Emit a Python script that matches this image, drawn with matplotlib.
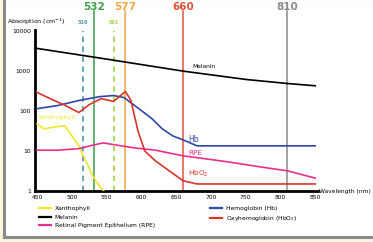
import matplotlib.pyplot as plt
import matplotlib.transforms as mtransforms
from matplotlib.patches import Rectangle
from matplotlib.lines import Line2D

# absorption spectra (nm, cm^-1)
xan_nm = [450, 460, 475, 490, 500, 510, 520, 530, 540, 546]
xan_val = [48, 36, 40, 43, 24, 13.5, 5.7, 2.4, 1.3, 1.0]

mel_nm = [450, 550, 660, 750, 810, 850]
mel_val = [3700, 2000, 1000, 620, 490, 430]

rpe_nm = [450, 480, 510, 530, 545, 560, 590, 620, 660, 720, 780, 810, 850]
rpe_val = [10.5, 10.5, 11.5, 14, 16, 14.5, 12, 10.5, 7.6, 5.5, 3.8, 3.2, 2.1]

hb_nm = [450, 480, 510, 540, 560, 575, 600, 615, 630, 645, 660, 680, 850]
hb_val = [115, 138, 184, 230, 245, 218, 103, 65, 36, 24, 19, 13.5, 13.5]

hbo2_nm = [450, 470, 490, 510, 525, 542, 560, 577, 585, 595, 605, 620, 640, 660, 680, 850]
hbo2_val = [293, 200, 140, 92, 145, 205, 174, 310, 184, 32, 10, 5.7, 3.2, 1.8, 1.5, 1.5]

laser_nm = [516, 532, 561, 577, 660, 810]
laser_colors = ['#5a9db5', '#3a9e48', '#a8d84e', '#f4a640', '#e2543c', '#8c8c8c']
laser_dashed = [True, False, True, False, False, False]

xticks = [450, 500, 550, 600, 650, 700, 750, 800, 850]
yticks = [1, 10, 100, 1000, 10000]

W, H = 373, 242
fig = plt.figure(figsize=(W / 100, H / 100), dpi=100)
fig.patch.set_facecolor('#fbf6dc')
fig.add_artist(Rectangle((4 / W, 5 / H), 1.2, 1 - 5 / H + 0.01, transform=fig.transFigure,
                         facecolor='white', edgecolor='#8a8a8a', linewidth=2.2, zorder=0))

ax = fig.add_axes([35 / W, 1 - 191 / H, (318 - 35) / W, (191 - 30) / H])
ax.set_facecolor('none')
ax.set_yscale('log')
ax.set_xlim(447, 854)
ax.set_ylim(1, 10700)

# laser lines
blend = mtransforms.blended_transform_factory(ax.transData, fig.transFigure)
for nm, c, dash in zip(laser_nm, laser_colors, laser_dashed):
    if dash:
        ax.plot([nm, nm], [1, 10000], color=c, lw=1.3, ls=(0, (3, 2.5)), clip_on=False, zorder=1)
        ax.text(nm, 1 - 22 / H, str(nm), transform=blend, color=c, fontsize=3.6,
                ha='center', va='center', fontweight='bold')
    else:
        ax.plot([nm, nm], [1, 32000], color=c, lw=1.1, clip_on=False, zorder=1)
        ax.text(nm, 1 - 7 / H, str(nm), transform=blend, color=c, fontsize=7.5,
                ha='center', va='center', fontweight='bold')

lw = 1.2
ax.plot(xan_nm, xan_val, color='#f2e52a', lw=lw, zorder=3)
ax.plot(mel_nm, mel_val, color='black', lw=lw, zorder=3)
ax.plot(rpe_nm, rpe_val, color='#ec2f8c', lw=lw, zorder=3)
ax.plot(hb_nm, hb_val, color='#2e48a8', lw=lw, zorder=3)
ax.plot(hbo2_nm, hbo2_val, color='#d8352b', lw=lw, zorder=3)

ax.text(451, 69, 'Xanthophyll', color='#f2e52a', fontsize=4.5, va='center')
ax.text(673, 1320, 'Melanin', color='black', fontsize=4.2, va='center')
ax.text(667, 20, 'Hb', color='#2e48a8', fontsize=5.5, va='center')
ax.text(667, 9, 'RPE', color='#ec2f8c', fontsize=5.2, va='center')
ax.text(667, 2.7, 'HbO$_2$', color='#d8352b', fontsize=5.2, va='center')

for s in ['top', 'right']:
    ax.spines[s].set_visible(False)
for s in ['left', 'bottom']:
    ax.spines[s].set_linewidth(2)
ax.set_xticks(xticks)
ax.set_xticklabels([str(t) for t in xticks])
ax.set_yticks(yticks)
ax.set_yticklabels([str(t) for t in yticks])
ax.minorticks_off()
ax.tick_params(length=0, labelsize=4.3, pad=3)

fig.text(7 / W, 1 - 22 / H, 'Absorption (cm$^{-1}$)', fontsize=4.5, va='center')
fig.text(319 / W, 1 - 191 / H, 'Wavelength (nm)', fontsize=4.3, va='center')

h1 = [Line2D([], [], color='#f2e52a', lw=1.6),
      Line2D([], [], color='black', lw=1.6),
      Line2D([], [], color='#ec2f8c', lw=1.6)]
l1 = ['Xanthophyll', 'Melanin', 'Retinal Pigment Epithelium (RPE)']
h2 = [Line2D([], [], color='#2e48a8', lw=1.6),
      Line2D([], [], color='#d8352b', lw=1.6)]
l2 = ['Hemoglobin (Hb)', 'Oxyhemoglobin (HbO$_2$)']
kw = dict(frameon=False, fontsize=4.3, handlelength=2.0, handletextpad=0.6,
          labelspacing=0.55, borderaxespad=0, borderpad=0, loc='upper left')
fig.legend(h1, l1, bbox_to_anchor=(39 / W, 1 - 206 / H), **kw)
fig.legend(h2, l2, bbox_to_anchor=(210 / W, 1 - 206 / H), **kw)

fig.savefig('out.png', dpi=100, facecolor=fig.get_facecolor())
